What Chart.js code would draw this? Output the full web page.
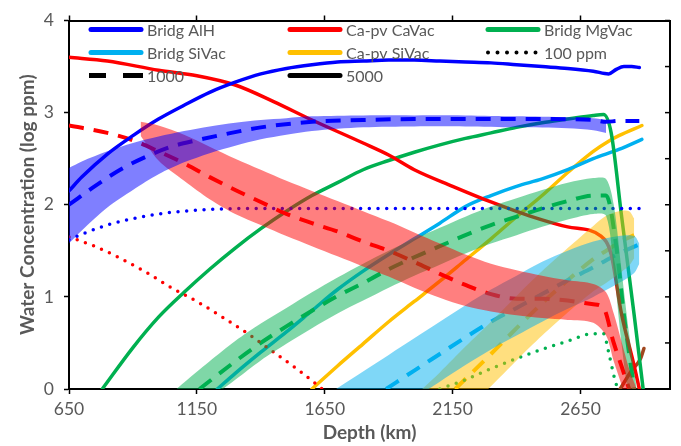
<!DOCTYPE html>
<html><head><meta charset="utf-8">
<script src="https://cdn.jsdelivr.net/npm/chart.js@4"></script>
<style>html,body{margin:0;padding:0;background:#fff}#wrap{width:681px;height:446px}</style>
</head><body><div id="wrap"><canvas id="c" width="681" height="446"></canvas></div>
<script>
// ---- axis ticks ----
const depthTicks = [650, 1150, 1650, 2150, 2650];
const valueTicks = [0, 1, 2, 3, 4];
const rightTicks = [0, 0.5, 1, 1.5, 2, 2.5, 3, 3.5, 4];

// ---- Bridg AlH ----
const alh5000D = [650,700,800,900,1000,1100,1200,1300,1400,1500,1600,1700,1800,1900,2000,2100,2200,2300,2400,2500,2600,2700,2760,2790,2820,2850,2880];
const alh5000V = [2.15,2.3,2.55,2.75,2.93,3.08,3.22,3.33,3.42,3.48,3.52,3.55,3.56,3.57,3.57,3.56,3.55,3.54,3.52,3.5,3.48,3.45,3.42,3.47,3.5,3.5,3.49];
const alh1000D = [650,750,850,950,1050,1150,1250,1400,1600,1800,2000,2500,2700,2750,2800,2880];
const alh1000V = [2.0,2.2,2.38,2.52,2.63,2.7,2.76,2.84,2.9,2.92,2.93,2.93,2.92,2.9,2.91,2.91];
const alh100D = [650,700,800,900,1000,1100,1200,1400,1600,2000,2500,2880];
const alh100V = [1.62,1.68,1.78,1.85,1.9,1.93,1.95,1.96,1.96,1.96,1.96,1.96];
const alhBandD  = [650,700,800,900,1000,1100,1200,1300,1400,1500,1600,1800,2000,2200,2400,2600,2700,2750];
const alhBandHi = [2.40,2.47,2.58,2.67,2.74,2.80,2.85,2.89,2.92,2.94,2.96,2.97,2.97,2.97,2.96,2.95,2.94,2.92];
const alhBandLo = [1.58,1.72,1.97,2.16,2.33,2.46,2.56,2.64,2.71,2.76,2.80,2.84,2.85,2.85,2.84,2.83,2.81,2.78];

// ---- Ca-pv CaVac ----
const caVac5000D = [650,800,1000,1150,1300,1450,1600,1800,1900,2000,2150,2300,2450,2600,2730,2770,2810,2860,2880];
const caVac5000V = [3.6,3.56,3.46,3.4,3.3,3.12,2.92,2.67,2.54,2.38,2.2,2.03,1.88,1.76,1.66,1.46,0.82,0.25,0];
const caVac1000D = [650,800,900,1000,1100,1200,1300,1400,1500,1600,1700,1800,1900,2000,2100,2200,2300,2400,2500,2600,2700,2740,2780,2810,2840];
const caVac1000V = [2.86,2.78,2.7,2.58,2.45,2.3,2.16,2.03,1.9,1.8,1.71,1.6,1.5,1.38,1.25,1.13,1.03,0.98,0.98,0.96,0.92,0.88,0.5,0.25,0];
const caVac100D = [650,750,850,950,1050,1150,1250,1350,1450,1550,1640];
const caVac100V = [1.65,1.55,1.42,1.27,1.1,0.95,0.78,0.6,0.4,0.2,0];
const caVacBandD  = [930,1000,1100,1200,1300,1400,1500,1600,1700,1800,1900,2000,2100,2200,2300,2400,2500,2600,2700,2750,2780,2810,2840,2870];
const caVacBandHi = [2.90,2.86,2.76,2.63,2.50,2.38,2.26,2.15,2.04,1.93,1.82,1.70,1.58,1.46,1.36,1.29,1.23,1.18,1.14,1.05,0.82,0.52,0.22,0];
const caVacBandLo = [2.75,2.48,2.26,2.06,1.90,1.78,1.66,1.55,1.44,1.33,1.22,1.10,0.99,0.90,0.84,0.80,0.77,0.75,0.72,0.58,0.30,0.05,-0.2,-0.4];

// ---- Bridg MgVac ----
const mgVac5000D = [780,900,1000,1100,1200,1300,1400,1500,1600,1700,1800,1900,2000,2100,2200,2300,2400,2500,2600,2700,2740,2770,2810,2860,2895];
const mgVac5000V = [0,0.45,0.78,1.05,1.3,1.53,1.74,1.93,2.1,2.24,2.38,2.48,2.57,2.65,2.72,2.78,2.84,2.89,2.93,2.97,2.98,2.78,1.89,0.8,0];
const mgVac1000D = [1160,1300,1400,1500,1600,1700,1800,1900,2000,2100,2200,2300,2400,2500,2600,2700,2750,2790,2820,2860];
const mgVac1000V = [0,0.3,0.5,0.68,0.85,1.01,1.15,1.3,1.43,1.55,1.67,1.78,1.87,1.96,2.04,2.1,2.1,1.55,0.8,0];
const mgVac100D = [2100,2200,2300,2400,2500,2600,2700,2740,2760,2780,2795];
const mgVac100V = [0,0.1,0.22,0.33,0.43,0.52,0.6,0.6,0.4,0.15,0];
const mgVacBandD  = [1070,1100,1200,1300,1400,1500,1600,1700,1800,1900,2000,2100,2200,2300,2400,2500,2600,2700,2750,2780,2810,2840,2870];
const mgVacBandHi = [0.0,0.07,0.30,0.52,0.71,0.88,1.05,1.21,1.36,1.50,1.63,1.75,1.87,1.98,2.07,2.16,2.24,2.29,2.28,2.0,1.3,0.6,0];
const mgVacBandLo = [-0.40,-0.33,-0.11,0.10,0.31,0.49,0.66,0.82,0.96,1.10,1.23,1.35,1.47,1.58,1.67,1.76,1.84,1.90,1.88,1.3,0.5,-0.1,-0.4];

// ---- Bridg SiVac ----
const siVac5000D = [1230,1300,1400,1500,1600,1700,1800,1900,2000,2100,2200,2300,2400,2500,2600,2700,2800,2890];
const siVac5000V = [0,0.17,0.4,0.62,0.85,1.08,1.28,1.46,1.63,1.8,1.98,2.1,2.2,2.28,2.38,2.5,2.6,2.71];
const siVac1000D = [1890,2000,2100,2200,2300,2400,2500,2600,2700,2800,2880];
const siVac1000V = [0,0.2,0.38,0.56,0.73,0.88,1.03,1.18,1.32,1.47,1.57];
const siVacBandD  = [1650,1700,1800,1900,2000,2100,2200,2300,2400,2500,2600,2700,2800,2860,2880];
const siVacBandHi = [-0.08,0.01,0.19,0.37,0.55,0.73,0.91,1.08,1.23,1.38,1.50,1.60,1.66,1.66,1.58];
const siVacBandLo = [-0.75,-0.66,-0.46,-0.28,-0.10,0.08,0.26,0.43,0.58,0.73,0.87,1.00,1.15,1.26,1.36];

// ---- Ca-pv SiVac ----
const cpSi5000D = [1600,1700,1800,1900,2000,2100,2200,2300,2400,2500,2600,2700,2760,2800,2890];
const cpSi5000V = [0,0.25,0.49,0.73,0.95,1.17,1.4,1.63,1.87,2.1,2.35,2.58,2.69,2.75,2.86];
const cpSi1000D = [2160,2300,2400,2500,2600,2700,2750,2800,2860];
const cpSi1000V = [0,0.38,0.66,0.93,1.18,1.41,1.5,1.59,1.67];
const cpSiBandD  = [2000,2100,2200,2300,2400,2500,2600,2700,2750,2800,2840,2860];
const cpSiBandHi = [-0.08,0.18,0.46,0.73,1.01,1.28,1.53,1.77,1.88,1.93,1.93,1.85];
const cpSiBandLo = [-0.62,-0.38,-0.24,0.03,0.31,0.58,0.83,1.06,1.15,1.25,1.34,1.42];

// ---- short dark segment near the core–mantle boundary ----
const cmbD = [2805,2850,2885,2898];
const cmbV = [0,0.2,0.33,0.44];

// ---- legend ----
const legendLabels = ['Bridg AlH','Ca-pv CaVac','Bridg MgVac','Bridg SiVac','Ca-pv SiVac','100 ppm','1000','5000'];

const BLUE='#0000FF', RED='#FF0000', GREEN='#00B050', SKY='#00B0F0', GOLD='#FFC000';
const STYLE = {
  solid:{dash:[],w:3.5,cap:'round'},
  dashed:{dash:[15,10],w:4,cap:'butt'},
  dotted:{dash:[0,8.7],w:3.5,cap:'round'}
};
function pts(D,V){return D.map((d,i)=>({x:d,y:V[i]}));}
function line(label,D,V,color,style){
  const s=STYLE[style];
  return {label,data:pts(D,V),borderColor:color,borderWidth:s.w,borderDash:s.dash,borderCapStyle:s.cap,
    borderJoinStyle:'round',pointRadius:0,fill:false,order:1,cubicInterpolationMode:'monotone',clip:0};
}
function band(label,D,hi,lo,rgba){
  return [
    {label:label+' hi',data:pts(D,hi),borderWidth:0,borderColor:'rgba(0,0,0,0)',backgroundColor:rgba,fill:'+1',pointRadius:0,order:0,tension:0.3,clip:0},
    {label:label+' lo',data:pts(D,lo),borderWidth:0,borderColor:'rgba(0,0,0,0)',backgroundColor:rgba,fill:false,pointRadius:0,order:0,tension:0.3,clip:0}
  ];
}

const datasets = [
  line('Bridg AlH 5000',alh5000D,alh5000V,BLUE,'solid'),
  line('Bridg AlH 1000',alh1000D,alh1000V,BLUE,'dashed'),
  line('Bridg AlH 100',alh100D,alh100V,BLUE,'dotted'),
  line('Ca-pv CaVac 5000',caVac5000D,caVac5000V,RED,'solid'),
  line('Ca-pv CaVac 1000',caVac1000D,caVac1000V,RED,'dashed'),
  line('Ca-pv CaVac 100',caVac100D,caVac100V,RED,'dotted'),
  line('Bridg MgVac 5000',mgVac5000D,mgVac5000V,GREEN,'solid'),
  line('Bridg MgVac 1000',mgVac1000D,mgVac1000V,GREEN,'dashed'),
  line('Bridg MgVac 100',mgVac100D,mgVac100V,GREEN,'dotted'),
  line('Bridg SiVac 5000',siVac5000D,siVac5000V,SKY,'solid'),
  line('Bridg SiVac 1000',siVac1000D,siVac1000V,SKY,'dashed'),
  line('Ca-pv SiVac 5000',cpSi5000D,cpSi5000V,GOLD,'solid'),
  line('Ca-pv SiVac 1000',cpSi1000D,cpSi1000V,GOLD,'dashed'),
  line('CMB segment',cmbD,cmbV,'#A0461E','solid'),
  ...band('Bridg AlH band',alhBandD,alhBandHi,alhBandLo,'rgba(0,0,255,0.5)'),
  ...band('Ca-pv CaVac band',caVacBandD,caVacBandHi,caVacBandLo,'rgba(255,0,0,0.5)'),
  ...band('Bridg MgVac band',mgVacBandD,mgVacBandHi,mgVacBandLo,'rgba(0,176,80,0.5)'),
  ...band('Bridg SiVac band',siVacBandD,siVacBandHi,siVacBandLo,'rgba(0,176,240,0.5)'),
  ...band('Ca-pv SiVac band',cpSiBandD,cpSiBandHi,cpSiBandLo,'rgba(255,192,0,0.5)')
];

const legendItems = [
  {text:legendLabels[0],color:BLUE,style:'solid'},
  {text:legendLabels[1],color:RED,style:'solid'},
  {text:legendLabels[2],color:GREEN,style:'solid'},
  {text:legendLabels[3],color:SKY,style:'solid'},
  {text:legendLabels[4],color:GOLD,style:'solid'},
  {text:legendLabels[5],color:'#000',style:'dotted'},
  {text:legendLabels[6],color:'#000',style:'dashed'},
  {text:legendLabels[7],color:'#000',style:'solid'}
];

const GRAY='#595959';
const FONT="Lato, 'Open Sans', sans-serif";

const legendPlugin = {
  id:'gridLegend',
  afterDraw(chart){
    const {ctx, chartArea:a} = chart;
    const colX=[20,219,417], rowY=[9,32,55], lineLen=54;
    ctx.save();
    ctx.font = '16px '+FONT;
    ctx.textBaseline='middle';
    ctx.textAlign='left';
    legendItems.forEach((it,i)=>{
      const x=a.left+colX[i%3], y=a.top+rowY[Math.floor(i/3)];
      ctx.strokeStyle=it.color;
      ctx.lineWidth = it.style==='dotted'?4:5;
      ctx.beginPath();
      if(it.style==='dotted'){
        ctx.setLineDash([0,9.5]);ctx.lineCap='round';
        ctx.moveTo(x+2,y);ctx.lineTo(x+lineLen-2,y);
      } else if(it.style==='dashed'){
        ctx.setLineDash([]);ctx.lineCap='butt';
        ctx.moveTo(x,y);ctx.lineTo(x+17,y);
        ctx.moveTo(x+34,y);ctx.lineTo(x+lineLen,y);
      } else {
        ctx.setLineDash([]);ctx.lineCap='round';
        ctx.moveTo(x+2,y);ctx.lineTo(x+lineLen-2,y);
      }
      ctx.stroke();
      ctx.setLineDash([]);
      ctx.fillStyle=GRAY;
      ctx.fillText(it.text,x+lineLen+4,y+1);
    });
    ctx.restore();
  }
};

const rightTickPlugin = {
  id:'rightTicks',
  afterDraw(chart){
    const s=chart.scales.y, a=chart.chartArea, ctx=chart.ctx;
    ctx.save();ctx.strokeStyle='#000';ctx.lineWidth=1.5;
    rightTicks.forEach(v=>{
      const y=s.getPixelForValue(v);
      ctx.beginPath();ctx.moveTo(a.right-5,y);ctx.lineTo(a.right,y);ctx.stroke();
    });
    ctx.restore();
  }
};

const plain = (v)=>String(v);

function draw(){
  Chart.defaults.font.family = FONT;
  new Chart(document.getElementById('c'), {
    type:'line',
    data:{datasets},
    options:{
      responsive:false, animation:false, devicePixelRatio:1,
      layout:{padding:0},
      plugins:{legend:{display:false},tooltip:{enabled:false},filler:{drawTime:'beforeDatasetDraw'}},
      scales:{
        x:{type:'linear',position:'bottom',min:650,max:3000,
          afterBuildTicks:(ax)=>{ax.ticks=depthTicks.map(v=>({value:v}));},
          afterFit:(s)=>{s.height=57;},
          ticks:{font:{size:17.5},color:GRAY,padding:5,maxRotation:0,autoSkip:false,callback:plain},
          grid:{drawOnChartArea:false,drawTicks:true,tickLength:5,tickColor:'#000',tickWidth:1.5},
          border:{display:true,color:'#000',width:2},
          title:{display:true,text:'Depth (km)',color:GRAY,font:{size:19,weight:'bold'},padding:{top:0,bottom:2}}},
        x2:{type:'linear',position:'top',min:650,max:3000,
          afterBuildTicks:(ax)=>{ax.ticks=depthTicks.map(v=>({value:v}));},
          afterFit:(s)=>{s.height=17;},
          ticks:{display:false},
          grid:{drawOnChartArea:false,drawTicks:true,tickLength:5,tickColor:'#000',tickWidth:1.5},
          border:{display:true,color:'#000',width:2}},
        y:{type:'linear',position:'left',min:0,max:4,
          afterBuildTicks:(ax)=>{ax.ticks=valueTicks.map(v=>({value:v}));},
          afterFit:(s)=>{s.width=69;},
          ticks:{font:{size:17.5},color:GRAY,padding:10,callback:plain},
          grid:{drawOnChartArea:false,drawTicks:true,tickLength:5,tickColor:'#000',tickWidth:1.5},
          border:{display:true,color:'#000',width:2},
          title:{display:true,text:'Water Concentration (log ppm)',color:GRAY,font:{size:19,weight:'bold'},padding:{top:16,bottom:0}}},
        y2:{type:'linear',position:'right',min:0,max:4,
          afterFit:(s)=>{s.width=11;},
          ticks:{display:false},
          grid:{drawOnChartArea:false,drawTicks:false},
          border:{display:true,color:'#000',width:2}}
      }
    },
    plugins:[legendPlugin,rightTickPlugin]
  });
}
if (document.fonts && document.fonts.load) {
  Promise.all([document.fonts.load('17px Lato'),document.fonts.load('bold 19px Lato')]).then(draw,draw);
} else draw();
</script>
</body></html>
